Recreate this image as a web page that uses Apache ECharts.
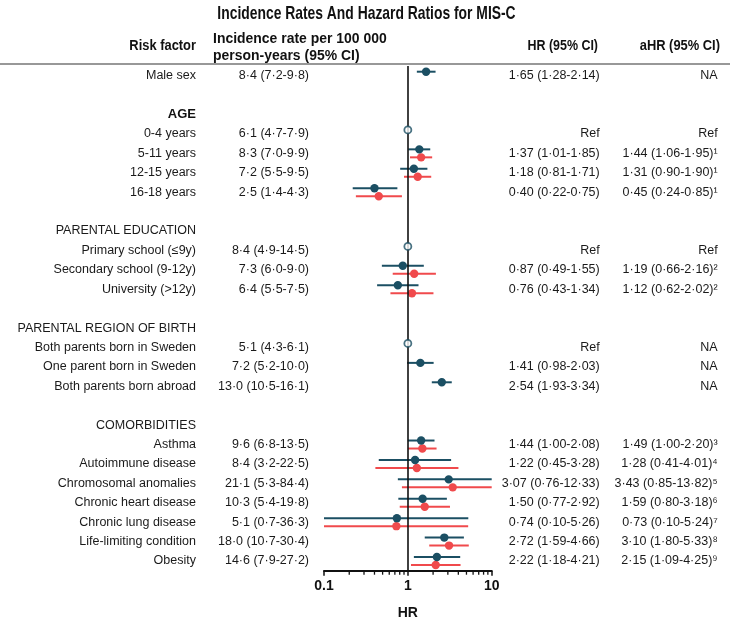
<!DOCTYPE html>
<html>
<head>
<meta charset="utf-8">
<script src="https://cdn.jsdelivr.net/npm/echarts@6/dist/echarts.min.js"></script>
<style>html,body{margin:0;padding:0;background:#fff}#c{width:733px;height:618px}</style>
</head>
<body>
<div id="c"></div>
<script>
// ---------------- data ----------------
const rowLabels = ['Male sex','','AGE','0-4 years','5-11 years','12-15 years','16-18 years','',
  'PARENTAL EDUCATION','Primary school (≤9y)','Secondary school (9-12y)','University (>12y)','',
  'PARENTAL REGION OF BIRTH','Both parents born in Sweden','One parent born in Sweden','Both parents born abroad','',
  'COMORBIDITIES','Asthma','Autoimmune disease','Chromosomal anomalies','Chronic heart disease',
  'Chronic lung disease','Life-limiting condition','Obesity'];
const boldRows = ['AGE'];
const incidence = ['8·4 (7·2-9·8)','','','6·1 (4·7-7·9)','8·3 (7·0-9·9)','7·2 (5·5-9·5)','2·5 (1·4-4·3)','',
  '','8·4 (4·9-14·5)','7·3 (6·0-9·0)','6·4 (5·5-7·5)','',
  '','5·1 (4·3-6·1)','7·2 (5·2-10·0)','13·0 (10·5-16·1)','',
  '','9·6 (6·8-13·5)','8·4 (3·2-22·5)','21·1 (5·3-84·4)','10·3 (5·4-19·8)','5·1 (0·7-36·3)','18·0 (10·7-30·4)','14·6 (7·9-27·2)'];
const hrEst  = [1.65,null,null,1,1.37,1.18,0.40,null,null,1,0.87,0.76,null,null,1,1.41,2.54,null,null,1.44,1.22,3.07,1.50,0.74,2.72,2.22];
const hrLow  = [1.28,null,null,null,1.01,0.81,0.22,null,null,null,0.49,0.43,null,null,null,0.98,1.93,null,null,1.00,0.45,0.76,0.77,0.10,1.59,1.18];
const hrHigh = [2.14,null,null,null,1.85,1.71,0.75,null,null,null,1.55,1.34,null,null,null,2.03,3.34,null,null,2.08,3.28,12.33,2.92,5.26,4.66,4.21];
const aHrEst  = [null,null,null,1,1.44,1.31,0.45,null,null,1,1.19,1.12,null,null,null,null,null,null,null,1.49,1.28,3.43,1.59,0.73,3.10,2.15];
const aHrLow  = [null,null,null,null,1.06,0.90,0.24,null,null,null,0.66,0.62,null,null,null,null,null,null,null,1.00,0.41,0.85,0.80,0.10,1.80,1.09];
const aHrHigh = [null,null,null,null,1.95,1.90,0.85,null,null,null,2.16,2.02,null,null,null,null,null,null,null,2.20,4.01,13.82,3.18,5.24,5.33,4.25];
const hrLabels = ['1·65 (1·28-2·14)','','','Ref','1·37 (1·01-1·85)','1·18 (0·81-1·71)','0·40 (0·22-0·75)','',
  '','Ref','0·87 (0·49-1·55)','0·76 (0·43-1·34)','',
  '','Ref','1·41 (0·98-2·03)','2·54 (1·93-3·34)','',
  '','1·44 (1·00-2·08)','1·22 (0·45-3·28)','3·07 (0·76-12·33)','1·50 (0·77-2·92)','0·74 (0·10-5·26)','2·72 (1·59-4·66)','2·22 (1·18-4·21)'];
const aHrLabels = ['NA','','','Ref','1·44 (1·06-1·95)¹','1·31 (0·90-1·90)¹','0·45 (0·24-0·85)¹','',
  '','Ref','1·19 (0·66-2·16)²','1·12 (0·62-2·02)²','',
  '','NA','NA','NA','',
  '','1·49 (1·00-2·20)³','1·28 (0·41-4·01)⁴','3·43 (0·85-13·82)⁵','1·59 (0·80-3·18)⁶','0·73 (0·10-5·24)⁷','3·10 (1·80-5·33)⁸','2·15 (1·09-4·25)⁹'];
const xTicks = [0.1, 1, 10];
const minorTickValues = [0.2,0.3,0.4,0.5,0.6,0.7,0.8,0.9,2,3,4,5,6,7,8,9];
// --------------------------------------

const TEAL = '#1b4f63', RED = '#f04a4c';
const FONT = '"Liberation Sans", Arial, sans-serif';
const FS = 12.5;

function ciData(est, lo, hi) {
  const out = [];
  for (let i = 0; i < est.length; i++) if (lo[i] != null) out.push([est[i], lo[i], hi[i], i]);
  return out;
}
function refData(labels, est) {
  const out = [];
  for (let i = 0; i < labels.length; i++) if (labels[i] === 'Ref' && est[i] != null) out.push([est[i], i]);
  return out;
}
function ciRenderer(offset, color) {
  return function (params, api) {
    const cs = params.coordSys;
    const row = api.value(3);
    const p = api.coord([api.value(0), row]);
    const pl = api.coord([api.value(1), row]);
    const ph = api.coord([api.value(2), row]);
    const y = p[1] + offset;
    const x1 = Math.max(pl[0], cs.x), x2 = Math.min(ph[0], cs.x + cs.width);
    return {
      type: 'group',
      children: [
        { type: 'line', shape: { x1: x1, y1: y, x2: x2, y2: y }, style: { stroke: color, lineWidth: 2 } },
        { type: 'circle', shape: { cx: p[0], cy: y, r: 4.2 }, style: { fill: color } }
      ]
    };
  };
}
function headText(text, x, y, align, scaleX, extra) {
  return {
    type: 'text', x: x, y: y, scaleX: scaleX,
    style: Object.assign({ text: text, x: 0, y: 0, textAlign: align, textVerticalAlign: 'middle',
      font: 'bold 15px ' + FONT, fill: '#111' }, extra || {})
  };
}

const chart = echarts.init(document.getElementById('c'), null, { renderer: 'canvas' });
const rowIdx = rowLabels.map((_, i) => String(i));
const baseY = {
  type: 'category', data: rowIdx, inverse: true,
  axisLine: { show: false }, axisTick: { show: false }, splitLine: { show: false }
};
chart.setOption({
  animation: false,
  backgroundColor: '#fff',
  textStyle: { fontFamily: FONT },
  grid: { left: 324, right: 241.3, top: 66, bottom: 47.3, containLabel: false, outerBoundsMode: 'none' },
  xAxis: {
    type: 'log', logBase: 10, min: 0.1, max: 10,
    axisLine: { show: true, onZero: false, lineStyle: { color: '#111', width: 2 } },
    axisTick: { show: true, length: 5, lineStyle: { color: '#111', width: 1.5 } },
    splitLine: { show: false },
    axisLabel: {
      margin: 8, fontSize: 14, fontWeight: 'bold', color: '#111', fontFamily: FONT,
      formatter: v => { const t = xTicks.find(k => Math.abs(k - v) < 1e-9); return t != null ? String(t) : ''; }
    },
    name: 'HR', nameLocation: 'middle', nameGap: 35,
    nameTextStyle: { fontSize: 14, fontWeight: 'bold', color: '#111', fontFamily: FONT }
  },
  yAxis: [
    Object.assign({}, baseY, {
      position: 'left',
      axisLabel: {
        margin: 128, fontSize: FS, color: '#1a1a1a', fontFamily: FONT,
        formatter: (v, i) => boldRows.indexOf(rowLabels[i]) >= 0 ? '{b|' + rowLabels[i] + '}' : rowLabels[i],
        rich: { b: { fontWeight: 'bold', fontSize: 13, color: '#111', fontFamily: FONT } }
      }
    }),
    Object.assign({}, baseY, {
      position: 'left',
      axisLabel: { margin: 15, fontSize: FS, color: '#1a1a1a', fontFamily: FONT, formatter: (v, i) => incidence[i] }
    }),
    Object.assign({}, baseY, {
      position: 'right',
      axisLabel: { margin: 108, align: 'right', fontSize: FS, color: '#1a1a1a', fontFamily: FONT, formatter: (v, i) => hrLabels[i] }
    }),
    Object.assign({}, baseY, {
      position: 'right', offset: 0,
      axisLabel: { margin: 226, align: 'right', fontSize: FS, color: '#1a1a1a', fontFamily: FONT, formatter: (v, i) => aHrLabels[i] }
    })
  ],
  graphic: [
    headText('Incidence Rates And Hazard Ratios for MIS-C', 366.5, 14, 'center', 0.73, { font: 'bold 19px ' + FONT }),
    { type: 'line', shape: { x1: 0, y1: 64, x2: 730, y2: 64 }, style: { stroke: '#333', lineWidth: 1.2 } },
    headText('Risk factor', 196, 46, 'right', 0.86),
    headText('Incidence rate per 100 000\nperson-years (95% CI)', 213, 47, 'left', 0.93, { font: 'bold 15px ' + FONT, lineHeight: 17 }),
    headText('HR (95% CI)', 598, 46, 'right', 0.83),
    headText('aHR (95% CI)', 720, 46, 'right', 0.86)
  ],
  series: [
    {
      type: 'custom', name: 'minor ticks', silent: true, clip: false,
      data: minorTickValues.map(v => [v, 0]),
      encode: { x: 0, y: 1 },
      renderItem: function (params, api) {
        const cs = params.coordSys;
        const p = api.coord([api.value(0), 0]);
        const yb = cs.y + cs.height;
        return { type: 'line', shape: { x1: p[0], y1: yb, x2: p[0], y2: yb + 4 }, style: { stroke: '#111', lineWidth: 1.3 } };
      }
    },
    {
      type: 'scatter', name: 'Ref', data: refData(hrLabels, hrEst),
      symbol: 'circle', symbolSize: 7, symbolOffset: [0, -4],
      itemStyle: { color: '#fff', borderColor: TEAL, borderWidth: 1.8 },
      z: 5,
      markLine: {
        silent: true, symbol: 'none', label: { show: false },
        lineStyle: { color: '#111', width: 1.6, type: 'solid' },
        data: [{ xAxis: 1 }]
      }
    },
    {
      type: 'custom', name: 'HR', data: ciData(hrEst, hrLow, hrHigh),
      encode: { x: [0, 1, 2], y: 3 }, renderItem: ciRenderer(-4, TEAL), z: 4
    },
    {
      type: 'custom', name: 'aHR', data: ciData(aHrEst, aHrLow, aHrHigh),
      encode: { x: [0, 1, 2], y: 3 }, renderItem: ciRenderer(4, RED), z: 3
    }
  ]
});
</script>
</body>
</html>
